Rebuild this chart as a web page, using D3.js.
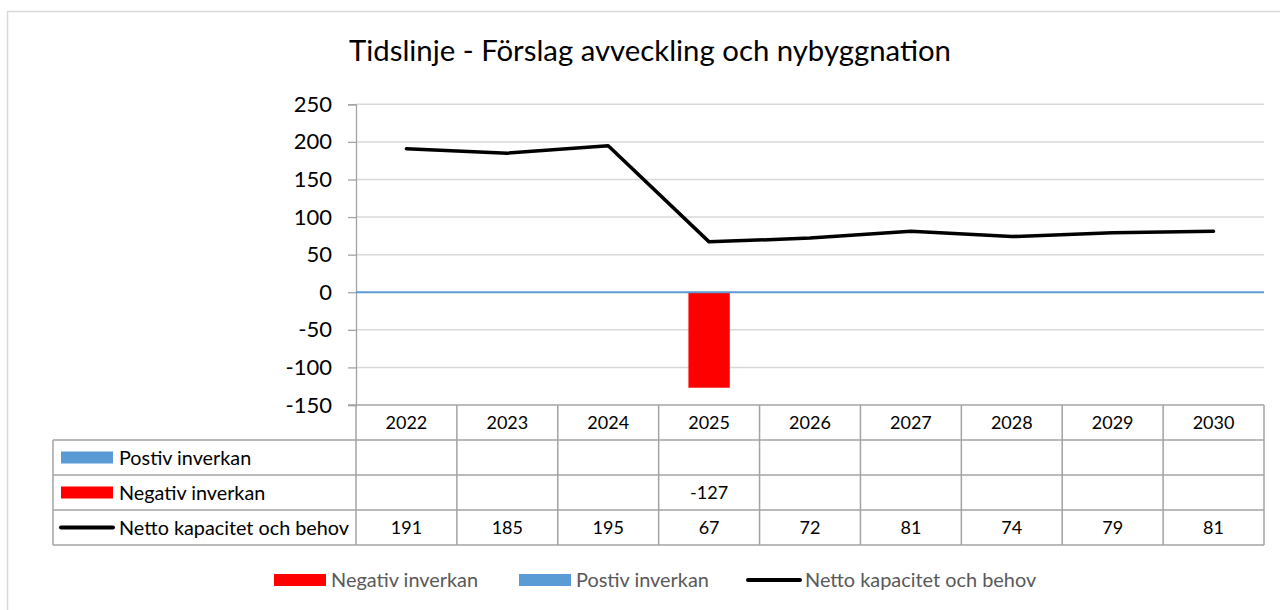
<html>
<head>
  <meta charset="utf-8">
  <title>Tidslinje</title>
  <script src="https://d3js.org/d3.v7.min.js"></script>
  <style>
    body { margin: 0; background: #fff; }
    svg text { font-family: Lato, "Open Sans", sans-serif; }
  </style>
</head>
<body>
  <svg id="chart"></svg>

  <script>
  const years = ["2022", "2023", "2024", "2025", "2026", "2027", "2028", "2029", "2030"]
  const positive = [null, null, null, null, null, null, null, null, null]
  const negative = [null, null, null, -127, null, null, null, null, null]
  const netto = [191, 185, 195, 67, 72, 81, 74, 79, 81]
  const yTicks = [-150, -100, -50, 0, 50, 100, 150, 200, 250]

  const seriesNames = ["Postiv inverkan", "Negativ inverkan", "Netto kapacitet och behov"]
  const chartTitle = "Tidslinje - Förslag avveckling och nybyggnation"

  const W = 1280, H = 610
  const plotLeft = 356, plotRight = 1264, plotTop = 104.3, plotBottom = 405
  const rowH = 35
  const tableLeft = 53
  const blue = "#5b9bd5", red = "#ff0000"
  const gridColor = "#d9d9d9", tableColor = "#a3a3a3"

  const svg = d3.select("#chart").attr("width", W).attr("height", H)

  // chart border (runs off the right and bottom edge)
  svg.append("path")
    .attr("d", "M7.5," + (H + 2) + "V11.5H" + (W + 2))
    .attr("fill", "none").attr("stroke", gridColor).attr("stroke-width", 1.5)

  // scale text until it fills a given width
  function fitWidth(sel, target){
    const fs = parseFloat(sel.attr("font-size"))
    const w = sel.node().getComputedTextLength()
    sel.attr("font-size", fs * target / w)
  }

  const titleText = svg.append("text")
    .attr("x", 650).attr("y", 61)
    .attr("text-anchor", "middle")
    .attr("font-size", 26)
    .attr("fill", "#000")
    .text(chartTitle)
  fitWidth(titleText, 602)

  const x = d3.scaleBand().domain(years).range([plotLeft, plotRight])
  const y = d3.scaleLinear().domain([-150, 250]).range([plotBottom, plotTop])

  // gridlines
  svg.append("g").selectAll("line")
    .data(yTicks.filter(d => d != 0 && d != -150))
    .join("line")
    .attr("x1", plotLeft).attr("x2", plotRight)
    .attr("y1", d => y(d)).attr("y2", d => y(d))
    .attr("stroke", gridColor).attr("stroke-width", 1.5)

  // y axis (plain hyphen for negatives, like the original)
  const yAxis = svg.append("g")
    .attr("transform", "translate(" + plotLeft + ",0)")
    .call(d3.axisLeft(y).tickValues(yTicks).tickSize(8).tickPadding(16).tickFormat(d => String(d)))
  yAxis.select(".domain").attr("stroke", tableColor).attr("stroke-width", 1.3)
  yAxis.selectAll(".tick line").attr("stroke", tableColor).attr("stroke-width", 1.3)
  yAxis.selectAll(".tick text")
    .attr("font-size", 22)
    .attr("font-family", "Lato, sans-serif")
    .attr("fill", "#000")

  // bars
  const barW = x.bandwidth() * 0.41
  svg.append("g").selectAll("rect")
    .data(years.map((d, i) => ({year: d, v: negative[i]})).filter(d => d.v != null))
    .join("rect")
    .attr("x", d => x(d.year) + x.bandwidth() / 2 - barW / 2)
    .attr("width", barW)
    .attr("y", d => y(Math.max(0, d.v)))
    .attr("height", d => Math.abs(y(d.v) - y(0)))
    .attr("fill", red)

  svg.append("g").selectAll("rect")
    .data(years.map((d, i) => ({year: d, v: positive[i]})).filter(d => d.v != null))
    .join("rect")
    .attr("x", d => x(d.year) + x.bandwidth() / 2 - barW / 2)
    .attr("width", barW)
    .attr("y", d => y(Math.max(0, d.v)))
    .attr("height", d => Math.abs(y(d.v) - y(0)))
    .attr("fill", blue)

  // zero line
  svg.append("line")
    .attr("x1", plotLeft).attr("x2", plotRight)
    .attr("y1", y(0)).attr("y2", y(0))
    .attr("stroke", blue).attr("stroke-width", 1.8)

  // netto line
  const line = d3.line()
    .x((d, i) => x(years[i]) + x.bandwidth() / 2)
    .y(d => y(d))
  svg.append("path")
    .datum(netto)
    .attr("d", line)
    .attr("fill", "none")
    .attr("stroke", "#000")
    .attr("stroke-width", 3.5)
    .attr("stroke-linecap", "round")
    .attr("stroke-linejoin", "round")

  // data table
  const table = svg.append("g")
  const rowsTop = plotBottom + rowH
  const tableBottom = plotBottom + rowH * 4

  table.append("line")
    .attr("x1", plotLeft - 8).attr("x2", plotRight)
    .attr("y1", plotBottom).attr("y2", plotBottom)
  for (let r = 1; r <= 4; r++) {
    table.append("line")
      .attr("x1", tableLeft).attr("x2", plotRight)
      .attr("y1", plotBottom + rowH * r).attr("y2", plotBottom + rowH * r)
  }
  table.append("line")
    .attr("x1", tableLeft).attr("x2", tableLeft)
    .attr("y1", rowsTop).attr("y2", tableBottom)
  table.selectAll(".vline")
    .data(years.concat(["end"]))
    .join("line")
    .attr("class", "vline")
    .attr("x1", (d, i) => plotLeft + i * x.bandwidth())
    .attr("x2", (d, i) => plotLeft + i * x.bandwidth())
    .attr("y1", plotBottom).attr("y2", tableBottom)
  table.selectAll("line").attr("stroke", tableColor).attr("stroke-width", 1.5)

  const cellFont = 18
  const labelFont = 19.8
  table.selectAll(".yearLabel")
    .data(years)
    .join("text")
    .attr("class", "yearLabel")
    .attr("x", d => x(d) + x.bandwidth() / 2)
    .attr("y", plotBottom + rowH / 2)
    .attr("dy", "0.36em")
    .attr("text-anchor", "middle")
    .attr("font-size", cellFont)
    .text(d => d)

  const rows = [positive, negative, netto]
  rows.forEach((vals, r) => {
    table.selectAll(".val" + r)
      .data(vals.map((v, i) => ({year: years[i], v: v})).filter(d => d.v != null))
      .join("text")
      .attr("x", d => x(d.year) + x.bandwidth() / 2)
      .attr("y", rowsTop + rowH * r + rowH / 2)
      .attr("dy", "0.36em")
      .attr("text-anchor", "middle")
      .attr("font-size", cellFont)
      .text(d => d.v)
  })

  function drawKey(g, kind, x0, cy){
    if (kind == 2) {
      g.append("line")
        .attr("x1", x0).attr("x2", x0 + 52)
        .attr("y1", cy).attr("y2", cy)
        .attr("stroke", "#000").attr("stroke-width", 4)
        .attr("stroke-linecap", "round")
    } else {
      g.append("rect")
        .attr("x", x0).attr("y", cy - 6)
        .attr("width", 52).attr("height", 12)
        .attr("fill", kind == 0 ? blue : red)
    }
  }

  seriesNames.forEach((name, r) => {
    const cy = rowsTop + rowH * r + rowH / 2
    drawKey(table, r, 61, cy)
    table.append("text")
      .attr("x", 119).attr("y", cy)
      .attr("dy", "0.36em")
      .attr("font-size", labelFont)
      .text(name)
  })

  // legend
  const legend = svg.append("g")
  const legendItems = [
    {kind: 1, name: seriesNames[1], x: 274},
    {kind: 0, name: seriesNames[0], x: 519},
    {kind: 2, name: seriesNames[2], x: 748}
  ]
  legendItems.forEach(d => {
    drawKey(legend, d.kind, d.x, 580)
    legend.append("text")
      .attr("x", d.x + 57).attr("y", 580)
      .attr("dy", "0.36em")
      .attr("font-size", 19.9)
      .attr("fill", "#595959")
      .text(d.name)
  })
  </script>
</body>
</html>
